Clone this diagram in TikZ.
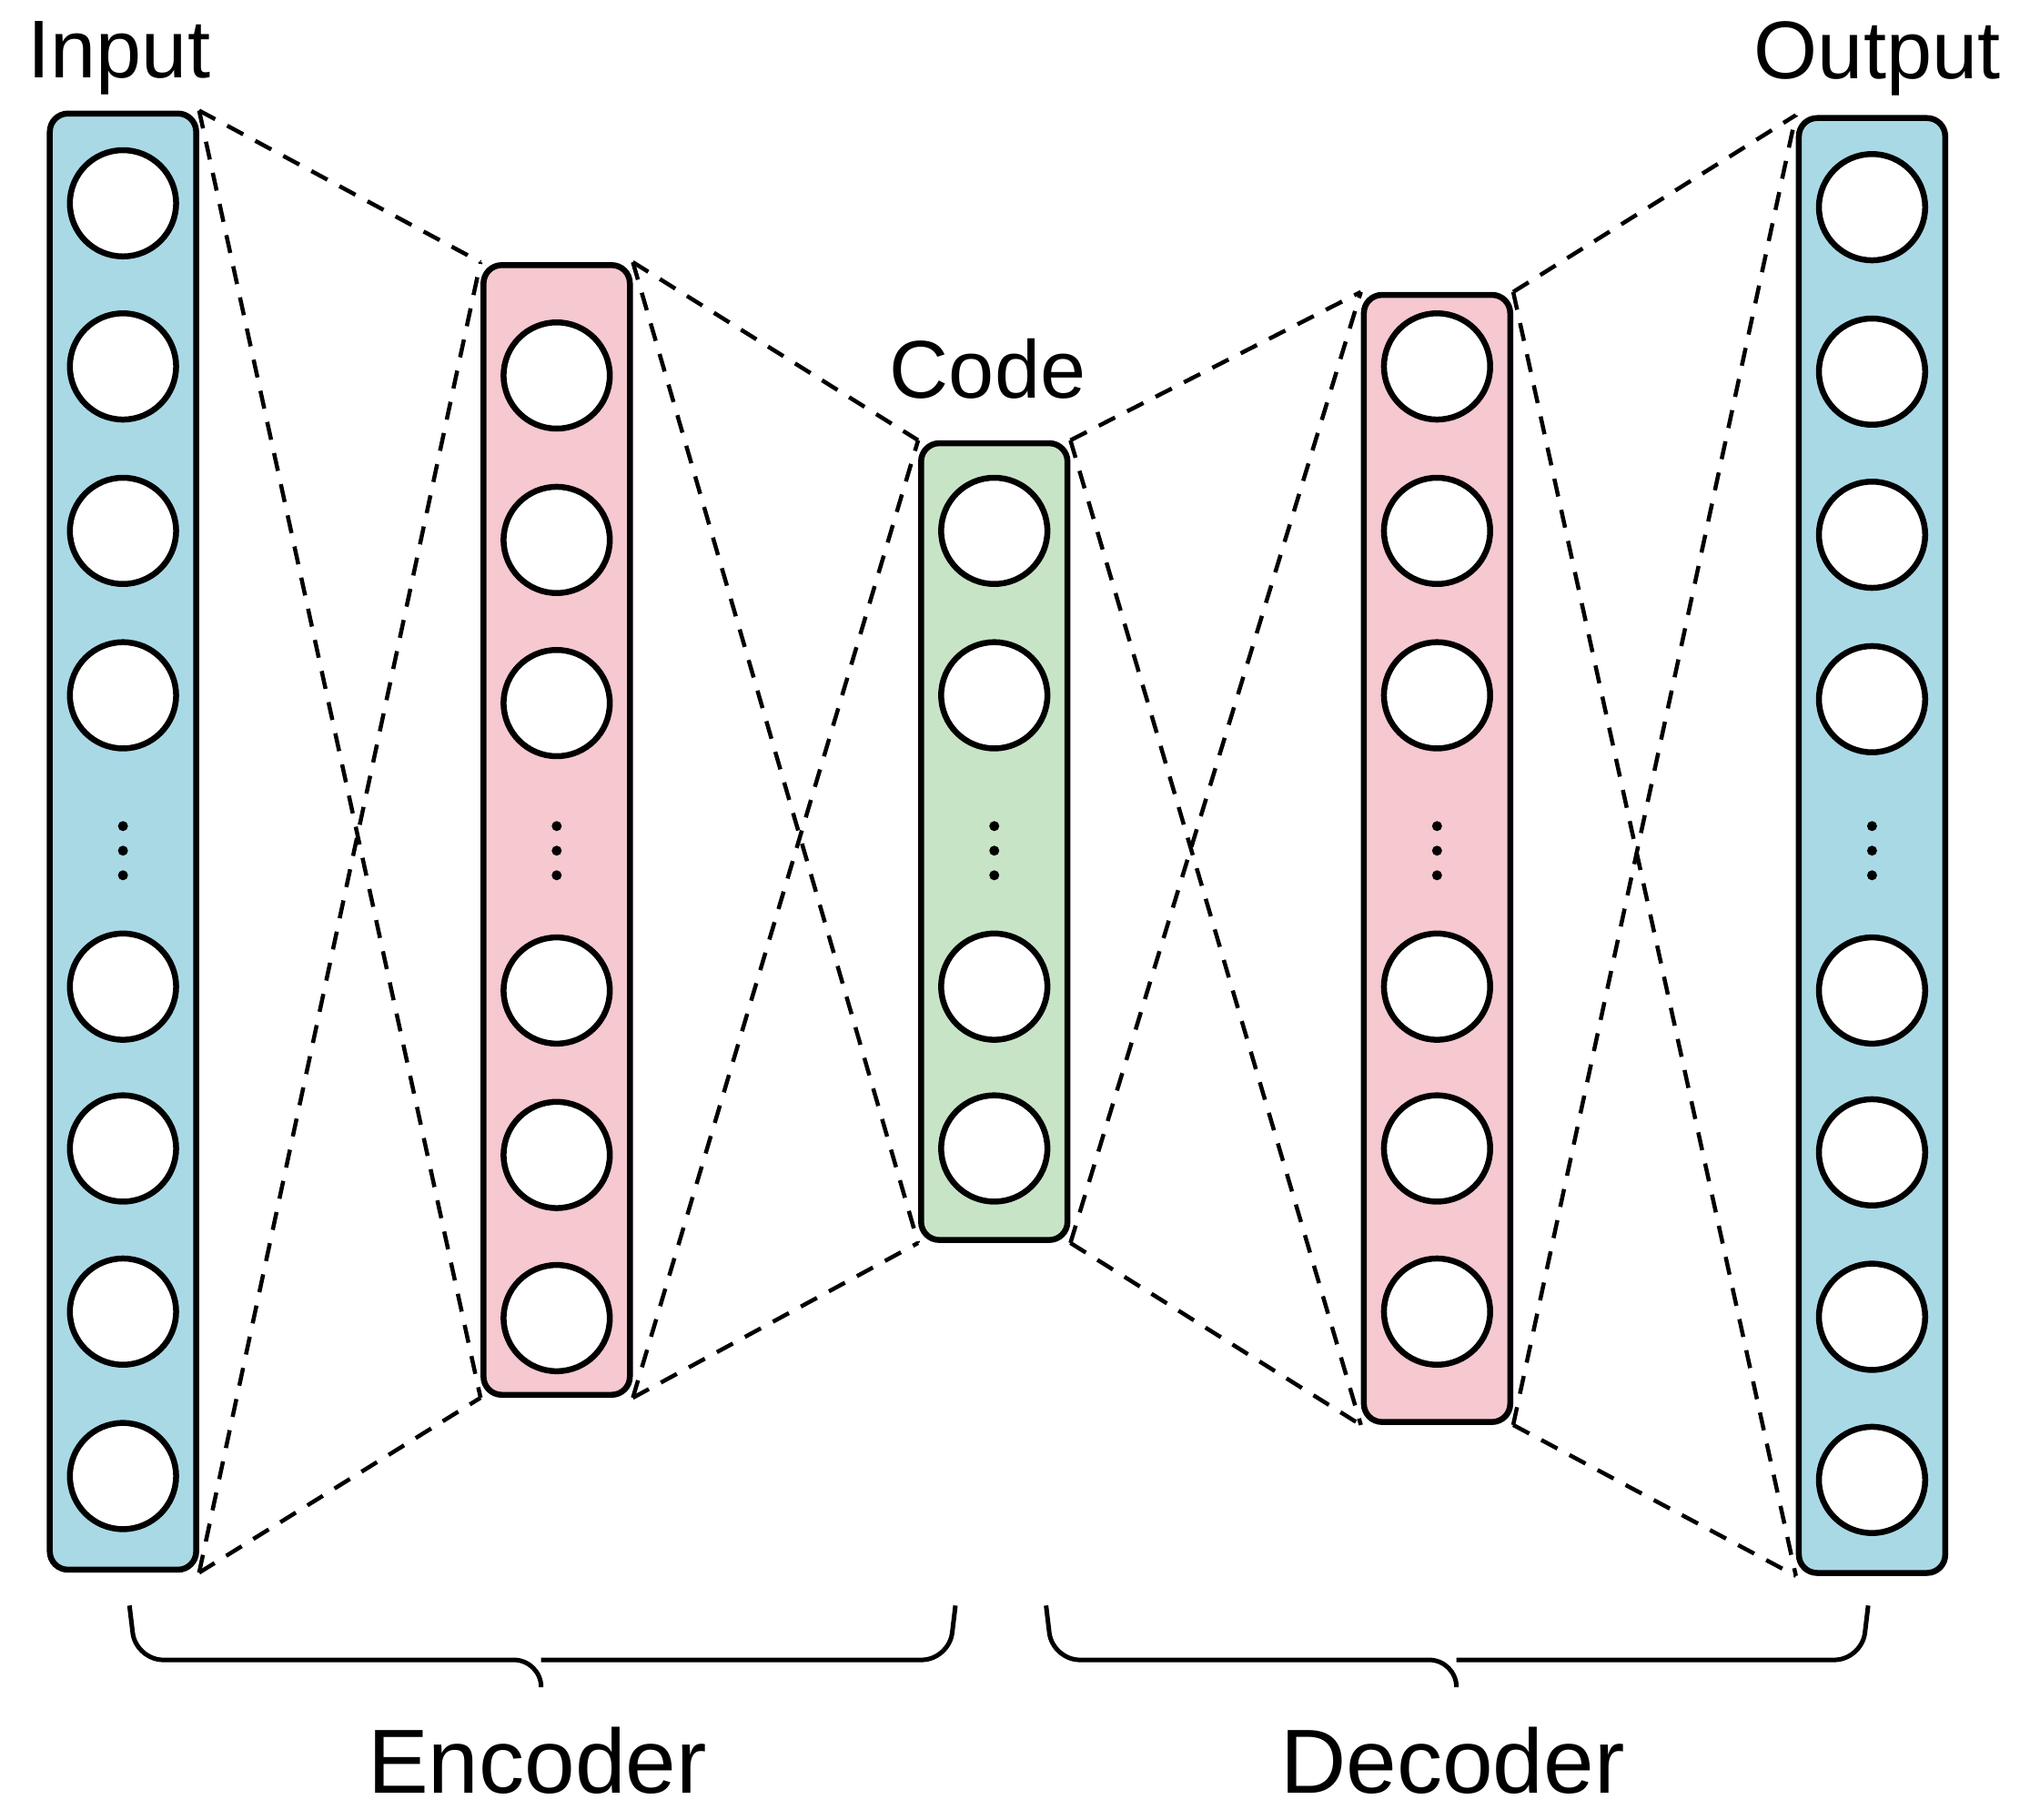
\documentclass[tikz,border=0pt]{standalone}
\usepackage{fontspec}
\setmainfont{Liberation Sans}
\definecolor{inblue}{RGB}{170,217,230}
\definecolor{hidpink}{RGB}{246,200,208}
\definecolor{codegreen}{RGB}{200,228,198}
\begin{document}
\begin{tikzpicture}[x=0.01cm,y=-0.01cm]
  \tikzset{LayerStyle/.style = {draw,line width=1.3pt,rounded corners=4pt,minimum width=1.13cm,inner sep=0pt},
           NeuronStyle/.style = {draw,circle,fill=white,line width=1.3pt,minimum size=0.82cm,inner sep=0pt},
           DotStyle/.style = {fill,circle,minimum size=2.2pt,inner sep=0pt},
           LinkStyle/.style = {dashed,line width=0.9pt,dash pattern=on 4pt off 3pt},
           BraceStyle/.style = {line width=1pt,rounded corners=6pt}}
\useasboundingbox (0,0) rectangle (1568,1405);
\node[LayerStyle,fill=inblue,minimum height=11.24cm] (lin) at (95,650) {};
\node[LayerStyle,fill=hidpink,minimum height=8.72cm] (lenc) at (430,641) {};
\node[LayerStyle,fill=codegreen,minimum height=6.15cm] (lcode) at (768,650) {};
\node[LayerStyle,fill=hidpink,minimum height=8.70cm] (ldec) at (1110,663) {};
\node[LayerStyle,fill=inblue,minimum height=11.23cm] (lout) at (1446,653) {};
%
\foreach \y [count=\i] in {157,283,410,537,762,887,1013,1140}
  \node[NeuronStyle] (in\i) at (95,\y) {};
\foreach \y [count=\i] in {290,417,543,765,892,1018}
  \node[NeuronStyle] (enc\i) at (430,\y) {};
\foreach \y [count=\i] in {410,537,762,887}
  \node[NeuronStyle] (code\i) at (768,\y) {};
\foreach \y [count=\i] in {283,410,537,762,887,1013}
  \node[NeuronStyle] (dec\i) at (1110,\y) {};
\foreach \y [count=\i] in {160,287,413,540,765,890,1017,1143}
  \node[NeuronStyle] (out\i) at (1446,\y) {};
\foreach \x [count=\i] in {95,430,768,1110,1446}
  \foreach \d in {0,1,2}
    \node[DotStyle] (dot\i\d) at (\x,638+\d*19) {};
%
\foreach \a/\b in {lin/lenc,lenc/lcode,lcode/ldec,ldec/lout}{
  \draw[LinkStyle] (\a.north east) -- (\b.north west);
  \draw[LinkStyle] (\a.south east) -- (\b.south west);
  \draw[LinkStyle] (\a.north east) -- (\b.south west);
  \draw[LinkStyle] (\a.south east) -- (\b.north west);
}
%
\node[font=\fontsize{18pt}{22pt}\selectfont] (tin) at (92,45) {Input};
\node[font=\fontsize{18pt}{22pt}\selectfont] (tout) at (1450,45) {Output};
\node[font=\fontsize{18pt}{22pt}\selectfont] (tcode) at (763,285) {Code};
\node[font=\fontsize{20pt}{24pt}\selectfont] (tenc) at (415,1360) {Encoder};
\node[font=\fontsize{20pt}{24pt}\selectfont] (tdec) at (1122,1360) {Decoder};
%
\coordinate (eb) at (418,1302);
\coordinate (db) at (1125,1302);
\draw[BraceStyle] (100,1240) -- (105,1282) -- (418,1282) -- (eb);
\draw[BraceStyle] (738,1240) -- (733,1282) -- (418,1282);
\draw[BraceStyle] (808,1240) -- (813,1282) -- (1125,1282) -- (db);
\draw[BraceStyle] (1443,1240) -- (1438,1282) -- (1125,1282);
\end{tikzpicture}
\end{document}
